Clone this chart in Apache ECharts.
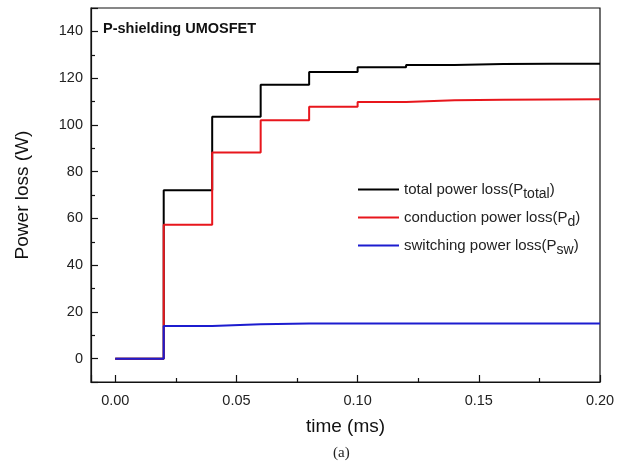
<!DOCTYPE html>
<html><head><meta charset="utf-8">
<script src="https://cdn.jsdelivr.net/npm/echarts@6/dist/echarts.min.js"></script>
<style>html,body{margin:0;padding:0;background:#fff}#c{width:625px;height:464px}</style>
</head><body><div id="c"></div>
<script>
const times = [0, 0.02, 0.04, 0.06, 0.08, 0.10, 0.12, 0.14, 0.16, 0.18, 0.20];
const totalLoss = [0, 72, 103.5, 117.2, 122.6, 124.7, 125.6, 126.0, 126.1, 126.2, 126.2];
const conductionLoss = [0, 57.3, 88.2, 102.0, 107.8, 109.8, 110.5, 110.8, 110.9, 111.0, 111.0];
const switchingLoss = [0, 14.0, 14.7, 15.0, 15.0, 15.0, 15.0, 15.0, 15.0, 15.0, 15.0];
const seriesNames = ['total power loss', 'conduction power loss', 'switching power loss'];
const subscripts = ['total', 'd', 'sw'];

const pair = arr => times.map((t, i) => [t, arr[i]]);
const font = 'Liberation Sans, Arial, sans-serif';
const chart = echarts.init(document.getElementById('c'));
chart.setOption({
  animation: false,
  backgroundColor: '#fff',
  grid: { left: 91, right: 25, top: 8, bottom: 82, show: true, borderColor: '#111', borderWidth: 1.2, containLabel: false },
  xAxis: {
    type: 'value', min: -0.01, max: 0.2, splitNumber: 4,
    name: 'time (ms)', nameLocation: 'middle', nameGap: 35,
    nameTextStyle: { fontFamily: font, fontSize: 19, color: '#111' },
    axisLine: { show: true, onZero: false, lineStyle: { color: '#111', width: 1.2 } },
    axisTick: { inside: true, length: 7, lineStyle: { color: '#111', width: 1.2 } },
    minorTick: { show: true, splitNumber: 2, length: 4, lineStyle: { color: '#111', width: 1.2 } },
    splitLine: { show: false },
    axisLabel: { showMinLabel: false, showMaxLabel: true, margin: 11, fontFamily: font, fontSize: 14.5, color: '#222', formatter: v => v.toFixed(2) }
  },
  yAxis: {
    type: 'value', min: -10, max: 150, splitNumber: 8,
    name: 'Power loss (W)', nameLocation: 'middle', nameGap: 59,
    nameTextStyle: { fontFamily: font, fontSize: 19, color: '#111' },
    axisLine: { show: true, onZero: false, lineStyle: { color: '#111', width: 1.2 } },
    axisTick: { inside: true, length: 7, lineStyle: { color: '#111', width: 1.2 } },
    minorTick: { show: true, splitNumber: 2, length: 4, lineStyle: { color: '#111', width: 1.2 } },
    splitLine: { show: false },
    axisLabel: { showMinLabel: false, showMaxLabel: false, margin: 8, fontFamily: font, fontSize: 14.5, color: '#222' }
  },
  legend: {
    orient: 'vertical', left: 353, top: 177, itemWidth: 41, itemHeight: 2, itemGap: 9,
    icon: 'rect',
    data: seriesNames,
    formatter: name => name + '(P{s|' + subscripts[seriesNames.indexOf(name)] + '})',
    textStyle: { fontFamily: font, fontSize: 15, color: '#222',
      rich: { s: { fontFamily: font, fontSize: 14, color: '#222', padding: [9, 0, 0, 0] } } }
  },
  graphic: [
    { type: 'text', left: 103, top: 21, style: { text: 'P-shielding UMOSFET', font: 'bold 14.5px ' + font, fill: '#111' } },
    { type: 'text', left: 333, top: 446, style: { text: '(a)', font: '15px Liberation Serif, serif', fill: '#222' } }
  ],
  series: [
    { name: seriesNames[0], type: 'line', step: 'end', data: pair(totalLoss), symbol: 'none', z: 2,
      lineStyle: { color: '#000', width: 2 }, itemStyle: { color: '#000' } },
    { name: seriesNames[1], type: 'line', step: 'end', data: pair(conductionLoss), symbol: 'none', z: 3,
      lineStyle: { color: '#e8161c', width: 2 }, itemStyle: { color: '#e8161c' } },
    { name: seriesNames[2], type: 'line', step: 'end', data: pair(switchingLoss), symbol: 'none', z: 4,
      lineStyle: { color: '#1c1ccf', width: 2 }, itemStyle: { color: '#1c1ccf' } }
  ]
});
</script></body></html>
